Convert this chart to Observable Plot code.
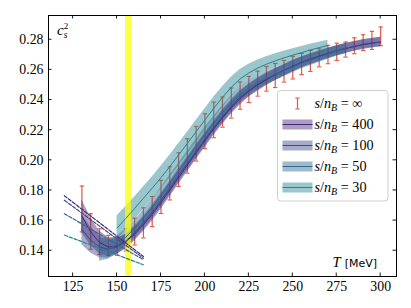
<!DOCTYPE html>
<html><head><meta charset="utf-8">
<script src="https://cdn.jsdelivr.net/npm/d3@7"></script>
<script src="https://cdn.jsdelivr.net/npm/@observablehq/plot@0.6"></script>
<style>body{margin:0;background:#fff;} #chart{width:411px;height:308px;}</style>
</head><body><div id="chart"></div>
<script>
// ---- axis ticks ----
const xTicks = [125,150,175,200,225,250,275,300];
const yTicks = [0.14,0.16,0.18,0.20,0.22,0.24,0.26,0.28];

// ---- lattice data s/nB = infinity ----
const latT = [130,135,140,145,150,155,160,165,170,175,180,185,190,195,200,205,210,215,220,225,230,235,240,245,250,255,260,265,270,275,280,285,290,295,300];
const latC = [0.1677,0.1528,0.1460,0.1435,0.1430,0.1472,0.1527,0.1585,0.1660,0.1757,0.1847,0.1938,0.2029,0.2110,0.2193,0.2268,0.2320,0.2380,0.2429,0.2470,0.2509,0.2541,0.2563,0.2591,0.2615,0.2639,0.2660,0.2680,0.2702,0.2720,0.2735,0.2760,0.2781,0.2796,0.2823];
const latE = [0.0152,0.0118,0.0085,0.0067,0.0060,0.0074,0.0089,0.0100,0.0100,0.0110,0.0110,0.0112,0.0114,0.0115,0.0116,0.0118,0.0100,0.0100,0.0090,0.0087,0.0083,0.0082,0.0080,0.0072,0.0075,0.0070,0.0070,0.0060,0.0061,0.0057,0.0050,0.0053,0.0052,0.0060,0.0062];

// ---- s/nB = 400 ----
const T400 = [130,135,140,145,150,155,160,165,170,175,180,185,190,195,200,205,210,215,220,225,230,235,240,245,250,255,260,265,270,275,280,285,290,295,300];
const c400 = [0.1630,0.1525,0.1455,0.1425,0.1430,0.1460,0.1510,0.1572,0.1642,0.1720,0.1802,0.1885,0.1968,0.2050,0.2130,0.2208,0.2282,0.2350,0.2410,0.2460,0.2500,0.2535,0.2567,0.2597,0.2625,0.2650,0.2672,0.2692,0.2710,0.2727,0.2742,0.2755,0.2767,0.2777,0.2785];
const e400 = [0.0110,0.0092,0.0076,0.0062,0.0052,0.0048,0.0046,0.0046,0.0046,0.0046,0.0046,0.0046,0.0046,0.0046,0.0046,0.0045,0.0045,0.0044,0.0043,0.0042,0.0041,0.0040,0.0039,0.0038,0.0037,0.0036,0.0035,0.0034,0.0034,0.0033,0.0033,0.0032,0.0032,0.0031,0.0031];

// ---- s/nB = 100 ----
const T100 = [130,135,140,145,150,155,160,165,170,175,180,185,190,195,200,205,210,215,220,225,230,235,240,245,250,255,260,265,270,275,280,285,290,295,300];
const c100 = [0.1540,0.1470,0.1425,0.1410,0.1425,0.1465,0.1520,0.1585,0.1655,0.1735,0.1815,0.1900,0.1980,0.2060,0.2140,0.2220,0.2290,0.2360,0.2420,0.2465,0.2505,0.2540,0.2570,0.2598,0.2625,0.2650,0.2670,0.2690,0.2710,0.2728,0.2743,0.2757,0.2770,0.2778,0.2785];
const e100 = [0.0100,0.0085,0.0072,0.0060,0.0052,0.0048,0.0046,0.0046,0.0046,0.0046,0.0046,0.0046,0.0046,0.0046,0.0046,0.0045,0.0045,0.0044,0.0043,0.0042,0.0041,0.0040,0.0039,0.0038,0.0037,0.0036,0.0035,0.0034,0.0034,0.0033,0.0033,0.0032,0.0032,0.0031,0.0031];

// ---- s/nB = 50 ----
const T50 = [140,145,150,155,160,165,170,175,180,185,190,195,200,205,210,215,220,225,230,235,240,245,250,255,260,265,270,275,280];
const c50 = [0.1405,0.1410,0.1440,0.1490,0.1550,0.1620,0.1690,0.1770,0.1850,0.1930,0.2010,0.2090,0.2170,0.2245,0.2315,0.2380,0.2435,0.2480,0.2515,0.2545,0.2570,0.2595,0.2620,0.2645,0.2665,0.2685,0.2705,0.2725,0.2740];
const e50 = [0.0075,0.0066,0.0058,0.0053,0.0050,0.0050,0.0050,0.0050,0.0050,0.0050,0.0050,0.0050,0.0049,0.0048,0.0047,0.0046,0.0045,0.0044,0.0043,0.0042,0.0041,0.0040,0.0039,0.0038,0.0037,0.0036,0.0035,0.0034,0.0034];

// ---- s/nB = 30 ----
const T30 = [150,155,160,165,170,175,180,185,190,195,200,205,210,215,220,225,230,235,240,245,250,255,260,265,270];
const c30 = [0.1550,0.1615,0.1680,0.1748,0.1815,0.1885,0.1958,0.2035,0.2112,0.2190,0.2268,0.2345,0.2418,0.2485,0.2540,0.2580,0.2612,0.2638,0.2660,0.2680,0.2698,0.2715,0.2732,0.2748,0.2762];
const e30 = [0.0080,0.0078,0.0076,0.0075,0.0075,0.0075,0.0075,0.0075,0.0075,0.0075,0.0075,0.0073,0.0070,0.0066,0.0062,0.0058,0.0054,0.0050,0.0047,0.0044,0.0042,0.0040,0.0038,0.0036,0.0035];

// ---- low-T dashed extrapolations ----
const dashT = [120,165];
const d400 = [0.1765,0.1362];
const d100 = [0.1735,0.1350];
const d50  = [0.1646,0.1340];
const d30  = [0.1504,0.1307];

// ---- T_c band ----
const tcLow = 154.8, tcHigh = 158.2;

const seriesLabels = ["400","100","50","30"];
const seriesColors = ["#482878","#3e4989","#31688e","#26828e"];
const errColor = "#e5573f";

// ---- build tables ----
const lat = latT.map((T,i)=>({T, c: latC[i], lo: latC[i]-latE[i], hi: latC[i]+latE[i]}));
const mk = (Ts, cs, es) => Ts.map((T,i)=>({T, c: cs[i], lo: cs[i]-es[i], hi: cs[i]+es[i]}));
const series = [
  mk(T400,c400,e400), mk(T100,c100,e100), mk(T50,c50,e50), mk(T30,c30,e30)
];
const dashes = [d400,d100,d50,d30].map(d => dashT.map((T,i)=>({T, c: d[i]})));

const capSymbol = {draw(ctx){ ctx.moveTo(-2.2,0); ctx.lineTo(2.2,0); }};

const W = 411, H = 308, mL = 48, mR = 15, mT = 15, mB = 32;
const serif = "'Liberation Serif', 'Times New Roman', serif";

const chart = Plot.plot({
  width: W, height: H,
  marginLeft: mL, marginRight: mR, marginTop: mT, marginBottom: mB,
  x: {domain: [111, 309]},
  y: {domain: [0.1229, 0.2961]},
  style: {fontFamily: serif, fontSize: "13.8px", background: "#fff", color: "#000"},
  marks: [
    Plot.ruleX(lat, {x: "T", y1: "lo", y2: "hi", stroke: errColor, strokeWidth: 1.2}),
    Plot.dot(lat, {x: "T", y: "lo", symbol: capSymbol, r: 2, stroke: errColor, fill: "none", strokeWidth: 1.1}),
    Plot.dot(lat, {x: "T", y: "hi", symbol: capSymbol, r: 2, stroke: errColor, fill: "none", strokeWidth: 1.1}),
    ...series.map((s,i) => Plot.areaY(s, {x: "T", y1: "lo", y2: "hi", fill: seriesColors[i], fillOpacity: 0.46})),
    Plot.rect([{x1: tcLow, x2: tcHigh}], {x1: "x1", x2: "x2", fill: "#ffff00", fillOpacity: 0.72}),
    ...series.map((s,i) => Plot.line(s, {x: "T", y: "c", stroke: seriesColors[i], strokeWidth: 1})),
    ...dashes.map((s,i) => Plot.line(s, {x: "T", y: "c", stroke: seriesColors[i], strokeWidth: 1.2, strokeDasharray: "3.5,1.6"})),
    Plot.frame({stroke: "#000", strokeWidth: 1}),
    Plot.axisX({ticks: xTicks, tickSize: 0, tickPadding: 5, label: null, tickFormat: d => String(d)}),
    Plot.axisY({ticks: yTicks, tickSize: 0, tickPadding: 5, label: null, tickFormat: d3.format(".2f")})
  ]
});
document.getElementById("chart").appendChild(chart);

const svg = d3.select(chart);
const sx = chart.scale("x"), sy = chart.scale("y");
const fLeft = mL, fRight = W - mR, fTop = mT, fBottom = H - mB;
const tk = 3.5;
const tg = svg.append("g").attr("stroke", "#000").attr("stroke-width", 0.9);
xTicks.forEach(v => {
  const x = sx.apply(v);
  tg.append("line").attr("x1", x).attr("x2", x).attr("y1", fBottom).attr("y2", fBottom - tk);
  tg.append("line").attr("x1", x).attr("x2", x).attr("y1", fTop).attr("y2", fTop + tk);
});
yTicks.forEach(v => {
  const y = sy.apply(v);
  tg.append("line").attr("x1", fLeft).attr("x2", fLeft + tk).attr("y1", y).attr("y2", y);
  tg.append("line").attr("x1", fRight).attr("x2", fRight - tk).attr("y1", y).attr("y2", y);
});

// axis labels
const ann = svg.append("g").attr("text-anchor", "start").attr("font-family", serif).attr("fill", "#000");
ann.append("text").attr("x", 57).attr("y", 35).attr("font-size", 15).attr("font-style", "italic").text("c");
ann.append("text").attr("x", 63.8).attr("y", 29).attr("font-size", 9).text("2");
ann.append("text").attr("x", 63.8).attr("y", 37.5).attr("font-size", 9.5).attr("font-style", "italic").text("s");

const tl = svg.append("text").attr("x", 377).attr("y", 267).attr("text-anchor", "end").attr("fill", "#000");
tl.append("tspan").attr("font-family", serif).attr("font-style", "italic").attr("font-size", 14.5).text("T");
tl.append("tspan").attr("font-family", "'DejaVu Sans', sans-serif").attr("font-size", 11).attr("dx", 4).text("[MeV]");

// legend
const legendLabels = ["\u221E", ...seriesLabels];
const lg = svg.append("g").attr("text-anchor", "start");
lg.append("rect").attr("x", 277.5).attr("y", 90.5).attr("width", 110.5).attr("height", 110.5).attr("rx", 3)
  .attr("fill", "#fff").attr("fill-opacity", 0.85).attr("stroke", "#cfcfcf").attr("stroke-width", 1);
const rowY = [103.5, 124.5, 145.5, 166.5, 187.5];
function label(y, val) {
  const t = lg.append("text").attr("x", 314.5).attr("y", y + 4.5).attr("font-size", 14.2)
    .attr("text-anchor", "start").attr("font-family", serif).attr("fill", "#000");
  t.append("tspan").attr("font-style", "italic").text("s");
  t.append("tspan").text("/");
  t.append("tspan").attr("font-style", "italic").text("n");
  t.append("tspan").attr("font-style", "italic").attr("font-size", 10).attr("dy", 2.5).text("B");
  t.append("tspan").attr("dy", -2.5).text(" = " + val);
}
lg.append("line").attr("x1", 297.5).attr("x2", 297.5).attr("y1", rowY[0] - 5.5).attr("y2", rowY[0] + 5.5).attr("stroke", errColor).attr("stroke-width", 1.2);
lg.append("line").attr("x1", 295.3).attr("x2", 299.7).attr("y1", rowY[0] - 5.5).attr("y2", rowY[0] - 5.5).attr("stroke", errColor);
lg.append("line").attr("x1", 295.3).attr("x2", 299.7).attr("y1", rowY[0] + 5.5).attr("y2", rowY[0] + 5.5).attr("stroke", errColor);
label(rowY[0], legendLabels[0]);
seriesColors.forEach((col, i) => {
  const y = rowY[i + 1];
  lg.append("rect").attr("x", 282.5).attr("y", y - 5).attr("width", 30).attr("height", 10).attr("fill", col).attr("fill-opacity", 0.46);
  lg.append("line").attr("x1", 282.5).attr("x2", 312.5).attr("y1", y).attr("y2", y).attr("stroke", col).attr("stroke-width", 1);
  label(y, legendLabels[i + 1]);
});
</script>
</body></html>
